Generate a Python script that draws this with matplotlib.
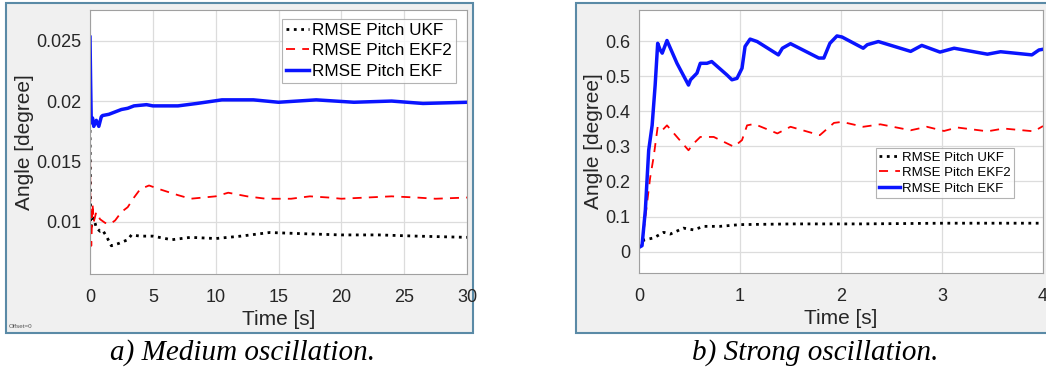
import matplotlib
matplotlib.use("Agg")
import matplotlib.pyplot as plt
from matplotlib.patches import Rectangle

# a) medium oscillation
t_med_ekf = [0, 0.05, 0.1, 0.2, 0.3, 0.5, 0.7, 0.9, 1.0, 1.5, 2.0, 2.5, 3.0, 3.5, 4.5, 5.0, 7.0, 8.5, 10.5, 13, 15, 18, 21, 24, 26.5, 30]
med_ekf = [0.0253, 0.0215, 0.0182, 0.0186, 0.0179, 0.0184, 0.0179, 0.0187, 0.0188, 0.0189, 0.0191, 0.0193, 0.0194, 0.0196, 0.0197, 0.0196, 0.0196, 0.0198, 0.0201, 0.0201, 0.0199, 0.0201, 0.0199, 0.0200, 0.0198, 0.0199]

t_med_ekf2 = [0, 0.03, 0.1, 0.2, 0.3, 0.5, 0.8, 1.2, 1.6, 2.0, 2.5, 3.0, 3.5, 4.0, 4.7, 5.5, 7.0, 8.0, 9.0, 10.0, 11.0, 12.5, 14, 16, 17.5, 19, 20, 22, 24, 26, 27.5, 30]
med_ekf2 = [0.0178, 0.0110, 0.0080, 0.0115, 0.0100, 0.0108, 0.0102, 0.0099, 0.0098, 0.0101, 0.0108, 0.0112, 0.0120, 0.0127, 0.0130, 0.0127, 0.0122, 0.0119, 0.0120, 0.0121, 0.0124, 0.0121, 0.0119, 0.0119, 0.0121, 0.0120, 0.0119, 0.0120, 0.0121, 0.0120, 0.0119, 0.0120]

t_med_ukf = [0, 0.05, 0.15, 0.3, 0.5, 0.8, 1.0, 1.3, 1.7, 2.3, 3.0, 3.3, 4.0, 5.0, 6.5, 8.0, 10, 12, 14.3, 17, 20, 23, 26, 30]
med_ukf = [0.0176, 0.0093, 0.0098, 0.0103, 0.0095, 0.0092, 0.0093, 0.0088, 0.0080, 0.0082, 0.0085, 0.0089, 0.0088, 0.0088, 0.0085, 0.0087, 0.0086, 0.0088, 0.0091, 0.0090, 0.0089, 0.0089, 0.0088, 0.0087]

# b) strong oscillation
t_str_ekf = [0, 0.03, 0.063, 0.096, 0.13, 0.16, 0.185, 0.21, 0.23, 0.277, 0.376, 0.49, 0.51, 0.574, 0.607, 0.673, 0.72, 0.87, 0.92, 0.97, 1.02, 1.05, 1.1, 1.17, 1.38, 1.42, 1.5, 1.78, 1.83, 1.89, 1.96, 2.01, 2.22, 2.26, 2.37, 2.69, 2.8, 2.98, 3.12, 3.45, 3.58, 3.89, 3.96, 4.0]
str_ekf = [0.012, 0.017, 0.119, 0.289, 0.36, 0.475, 0.594, 0.575, 0.566, 0.602, 0.537, 0.475, 0.49, 0.509, 0.537, 0.537, 0.542, 0.504, 0.49, 0.494, 0.523, 0.585, 0.606, 0.599, 0.561, 0.58, 0.593, 0.552, 0.552, 0.594, 0.615, 0.612, 0.58, 0.59, 0.599, 0.571, 0.588, 0.569, 0.58, 0.563, 0.57, 0.561, 0.575, 0.577]

t_str_ekf2 = [0, 0.03, 0.11, 0.145, 0.185, 0.23, 0.277, 0.376, 0.49, 0.54, 0.607, 0.74, 0.94, 1.02, 1.07, 1.14, 1.37, 1.5, 1.79, 1.93, 2.01, 2.22, 2.39, 2.69, 2.85, 3.02, 3.15, 3.45, 3.61, 3.91, 4.0]
str_ekf2 = [0.012, 0.02, 0.21, 0.27, 0.356, 0.346, 0.36, 0.327, 0.289, 0.308, 0.327, 0.327, 0.299, 0.318, 0.36, 0.364, 0.337, 0.356, 0.332, 0.367, 0.37, 0.356, 0.363, 0.346, 0.356, 0.344, 0.354, 0.343, 0.351, 0.343, 0.358]

t_str_ukf = [0, 0.046, 0.145, 0.244, 0.31, 0.44, 0.54, 0.64, 0.8, 1.0, 1.53, 2.19, 3.02, 4.0]
str_ukf = [0.012, 0.033, 0.039, 0.055, 0.05, 0.067, 0.062, 0.072, 0.072, 0.077, 0.079, 0.079, 0.081, 0.081]

labels = ["RMSE Pitch UKF", "RMSE Pitch EKF2", "RMSE Pitch EKF"]

W, H = 1046, 372
fig = plt.figure(figsize=(W / 100, H / 100), dpi=100)
fig.patch.set_facecolor("white")
plt.rcParams["font.family"] = ["Liberation Sans", "DejaVu Sans"]


def px_rect(x0, y0, x1, y1):
    # pixel box (top-left origin) -> figure fractions
    return [x0 / W, (H - y1) / H, (x1 - x0) / W, (y1 - y0) / H]


# grey panel frames
for x0, x1 in [(6, 473), (576, 1050)]:
    l, b, w, h = px_rect(x0, 3, x1, 333)
    fig.patches.append(Rectangle((l, b), w, h, transform=fig.transFigure,
                                 facecolor="#f0f0f0", edgecolor="#5a8aa6", lw=1.5, zorder=-10))


def style(ax):
    ax.set_facecolor("white")
    ax.grid(True, color="#dcdcdc", lw=0.9)
    ax.set_axisbelow(True)
    for s in ax.spines.values():
        s.set_color("#a0a0a0")
    ax.tick_params(direction="in", length=0, labelsize=13, colors="#262626")
    ax.tick_params(axis="x", pad=11)
    ax.tick_params(axis="y", pad=6)
    ax.set_xlabel("Time [s]", fontsize=15, color="#262626", labelpad=3)
    ax.set_ylabel("Angle [degree]", fontsize=15, color="#262626", labelpad=2)


ax1 = fig.add_axes(px_rect(90, 10, 467, 274))
ax1.plot(t_med_ukf, med_ukf, color="black", ls=":", lw=2, label=labels[0])
ax1.plot(t_med_ekf2, med_ekf2, color="red", ls=(0, (5, 4)), lw=1.3, label=labels[1])
ax1.plot(t_med_ekf, med_ekf, color="#0a14ff", ls="-", lw=2.5, label=labels[2])
ax1.set_xlim(0, 30)
ax1.set_ylim(0.00566, 0.02755)
ax1.set_xticks([0, 5, 10, 15, 20, 25, 30])
ax1.set_yticks([0.01, 0.015, 0.02, 0.025])
ax1.set_yticklabels(["0.01", "0.015", "0.02", "0.025"])
style(ax1)
leg1 = ax1.legend(loc="upper right", bbox_to_anchor=(456 / 377 - 90 / 377, (274 - 19) / 264),
                  fontsize=12.3, frameon=True, fancybox=False,
                  edgecolor="#a0a0a0", borderpad=0.25, labelspacing=0.3,
                  handlelength=1.35, handletextpad=0.15, borderaxespad=0)
leg1.get_frame().set_linewidth(0.8)

ax2 = fig.add_axes(px_rect(639, 10, 1043, 273))
ax2.plot(t_str_ukf, str_ukf, color="black", ls=":", lw=2, label=labels[0])
ax2.plot(t_str_ekf2, str_ekf2, color="red", ls=(0, (5, 4)), lw=1.3, label=labels[1])
ax2.plot(t_str_ekf, str_ekf, color="#0a14ff", ls="-", lw=2.5, label=labels[2])
ax2.set_xlim(0, 4)
ax2.set_ylim(-0.061, 0.689)
ax2.set_xticks([0, 1, 2, 3, 4])
ax2.set_yticks([0, 0.1, 0.2, 0.3, 0.4, 0.5, 0.6])
ax2.set_yticklabels(["0", "0.1", "0.2", "0.3", "0.4", "0.5", "0.6"])
style(ax2)
leg2 = ax2.legend(loc="upper left", bbox_to_anchor=((876 - 639) / 404, (273 - 148) / 263), fontsize=9.5,
                  frameon=True, fancybox=False, edgecolor="#a0a0a0", borderpad=0.25,
                  labelspacing=0.25, handlelength=1.6, handletextpad=0.15, borderaxespad=0)
leg2.get_frame().set_linewidth(0.8)

fig.text(9 / W, 1 - 327 / H, "Offset=0", fontsize=4.5, color="#555555", va="center")

cap = dict(fontsize=21, style="italic", family="Liberation Serif", ha="center", va="center")
fig.text(243 / W, 1 - 353 / H, "a) Medium oscillation.", **cap)
fig.text(815 / W, 1 - 353 / H, "b) Strong oscillation.", **cap)

fig.savefig("out.png", dpi=100)
